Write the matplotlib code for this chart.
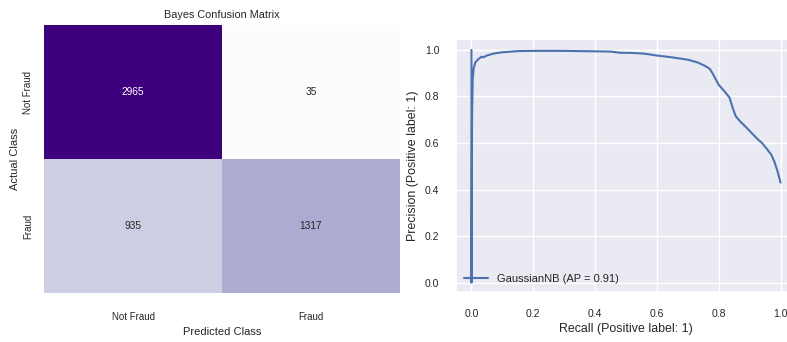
import numpy as np
import matplotlib
matplotlib.use("Agg")
import matplotlib.pyplot as plt
import seaborn as sns

# Confusion matrix counts (rows: actual, cols: predicted)
class_labels = ["Not Fraud", "Fraud"]
cm_not_fraud = [2965, 35]
cm_fraud = [935, 1317]

# Precision-recall curve of the Gaussian Naive Bayes model
recall = [0.0, 0.0, 0.002, 0.004, 0.007, 0.012, 0.02, 0.028, 0.033, 0.038,
          0.05, 0.07, 0.1, 0.15, 0.2, 0.3, 0.4, 0.45, 0.48, 0.52, 0.56, 0.6,
          0.65, 0.7, 0.73, 0.755, 0.77, 0.78, 0.79, 0.8, 0.81, 0.82, 0.835,
          0.845, 0.855, 0.87, 0.89, 0.91, 0.925, 0.94, 0.955, 0.97, 0.98,
          0.99, 1.0]
precision = [1.0, 0.0, 0.72, 0.87, 0.92, 0.945, 0.958, 0.966, 0.971, 0.968,
             0.976, 0.984, 0.99, 0.995, 0.996, 0.996, 0.994, 0.993, 0.988,
             0.987, 0.984, 0.976, 0.968, 0.958, 0.947, 0.932, 0.92, 0.9, 0.875,
             0.85, 0.835, 0.82, 0.795, 0.752, 0.715, 0.692, 0.666, 0.638, 0.618,
             0.6, 0.576, 0.55, 0.52, 0.48, 0.43]
ap_score = 0.91

sns.set_theme(style="darkgrid")
plt.rcParams["font.family"] = ["Liberation Sans", "DejaVu Sans"]
plt.rcParams["text.color"] = "#262626"

fig = plt.figure(figsize=(7.87, 3.42), dpi=100)
W, H = 787, 342

def px_axes(x0, y0, x1, y1):
    return fig.add_axes([x0 / W, 1 - y1 / H, (x1 - x0) / W, (y1 - y0) / H])

# Left: confusion matrix heatmap
ax1 = px_axes(44, 25, 400, 293)
cm = np.array([cm_not_fraud, cm_fraud])
sns.heatmap(cm, annot=True, fmt="d", cmap="Purples", cbar=False, ax=ax1,
            xticklabels=class_labels, yticklabels=class_labels,
            annot_kws={"fontsize": 7.3})
ax1.set_title("Bayes Confusion Matrix", fontsize=7.8, pad=5)
ax1.set_xlabel("Predicted Class", fontsize=8, labelpad=3)
ax1.set_ylabel("Actual Class", fontsize=8, labelpad=2)
ax1.tick_params(axis="x", labelsize=7, pad=14, length=0)
ax1.tick_params(axis="y", labelsize=7, pad=8, length=0)
for lbl in ax1.get_yticklabels():
    lbl.set_rotation(90)
    lbl.set_va("center")

# Right: precision-recall curve
ax2 = px_axes(456, 39, 796, 292)
ax2.plot(recall, precision, color="#4c72b0", lw=1.5,
         label=f"GaussianNB (AP = {ap_score:.2f})")
ax2.set_xlim(-0.05, 1.05)
ax2.set_ylim(-0.04, 1.047)
ax2.set_xticks([0.0, 0.2, 0.4, 0.6, 0.8, 1.0])
ax2.set_yticks([0.0, 0.2, 0.4, 0.6, 0.8, 1.0])
ax2.set_xlabel("Recall (Positive label: 1)", fontsize=8.9, labelpad=3)
ax2.set_ylabel("Precision (Positive label: 1)", fontsize=8.9, labelpad=4)
ax2.tick_params(axis="x", labelsize=7.5, pad=12, length=0)
ax2.tick_params(axis="y", labelsize=7.5, pad=12, length=0)
ax2.legend(loc="lower left", frameon=False, fontsize=8, handlelength=2.2,
           borderaxespad=0.3)

fig.savefig("out.png", dpi=100)
